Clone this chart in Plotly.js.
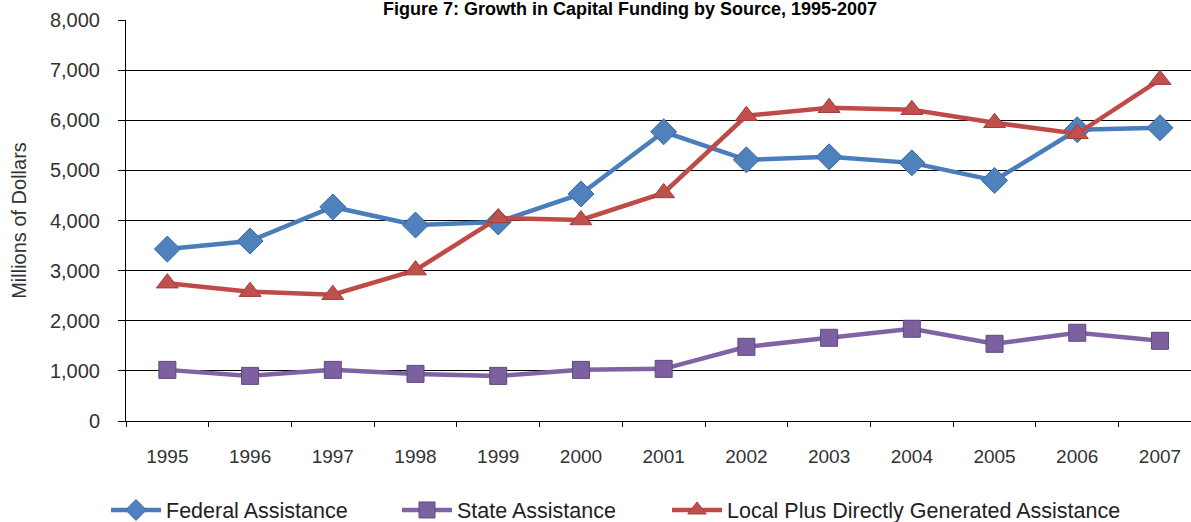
<!DOCTYPE html>
<html>
<head>
<meta charset="utf-8">
<script src="https://cdn.plot.ly/plotly-3.0.1.min.js"></script>
<style>
html,body{margin:0;padding:0;background:#fff;}
#chart{width:1191px;height:522px;}
</style>
</head>
<body>
<div id="chart"></div>
<script>
var years = ["1995","1996","1997","1998","1999","2000","2001","2002","2003","2004","2005","2006","2007"];
var federal = [3430, 3590, 4270, 3910, 3970, 4530, 5770, 5210, 5270, 5150, 4800, 5810, 5850];
var state = [1020, 900, 1020, 940, 900, 1020, 1040, 1480, 1660, 1840, 1540, 1760, 1600];
var localPlus = [2750, 2580, 2520, 3010, 4050, 4010, 4550, 6090, 6250, 6210, 5950, 5730, 6810];
var seriesNames = ["Federal Assistance", "State Assistance", "Local Plus Directly Generated Assistance"];
var yTickVals = [0,1000,2000,3000,4000,5000,6000,7000,8000];
var yTickText = ["0","1,000","2,000","3,000","4,000","5,000","6,000","7,000","8,000"];

var FONT = "Liberation Sans, Arial, sans-serif";

var traces = [
  {x: years, y: federal, name: seriesNames[0], type: "scatter", mode: "lines+markers",
   line: {color: "#4A7EBB", width: 4.5},
   marker: {symbol: "diamond", size: 20, color: "#4F81BD", line: {color: "#3A6AA8", width: 1}},
   legend: "legend"},
  {x: years, y: state, name: seriesNames[1], type: "scatter", mode: "lines+markers",
   line: {color: "#7F63A4", width: 4.5},
   marker: {symbol: "square", size: 17, color: "#7D60A0", line: {color: "#5E4A80", width: 1}},
   legend: "legend2"},
  {x: years, y: localPlus, name: seriesNames[2], type: "scatter", mode: "lines+markers",
   line: {color: "#BE4B48", width: 4.5},
   marker: {symbol: "triangle-up", size: 19, color: "#C0504D", line: {color: "#A33C39", width: 1}},
   legend: "legend3"}
];

function leg(px){
  return {orientation: "h", xref: "container", yref: "container", x: px/1191, y: 12/522,
    xanchor: "left", yanchor: "middle", itemwidth: 50, bgcolor: "rgba(0,0,0,0)",
    font: {family: FONT, size: 21.5, color: "#222"}};
}

var layout = {
  width: 1191, height: 522,
  paper_bgcolor: "#fff", plot_bgcolor: "#fff",
  margin: {l: 126, r: 0, t: 20, b: 101},
  title: {text: "<b>Figure 7: Growth in Capital Funding by Source, 1995-2007</b>",
    font: {family: FONT, size: 18, color: "#000"},
    xref: "container", x: 630/1191, xanchor: "center",
    yref: "container", y: 1 - 9/522, yanchor: "middle"},
  showlegend: true,
  xaxis: {type: "category", categoryorder: "array", categoryarray: years,
    range: [-0.5, 12.375], tickson: "boundaries", ticks: "outside", ticklen: 5,
    tickcolor: "#000", showgrid: false, showline: true, linecolor: "#000", linewidth: 1,
    zeroline: false, ticklabelstandoff: 18,
    tickfont: {family: FONT, size: 19, color: "#333"}},
  yaxis: {range: [0, 8000], tickvals: yTickVals, ticktext: yTickText,
    ticks: "outside", ticklen: 7, tickcolor: "#000",
    showgrid: true, gridcolor: "#000", gridwidth: 1,
    showline: true, linecolor: "#000", linewidth: 1, zeroline: false,
    ticklabelstandoff: 14,
    tickfont: {family: FONT, size: 20, color: "#333"},
    title: {text: "Millions of Dollars", standoff: 17, font: {family: FONT, size: 20, color: "#333"}}},
  legend: leg(106),
  legend2: leg(397),
  legend3: leg(667)
};

Plotly.newPlot("chart", traces, layout, {displayModeBar: false, staticPlot: true});
</script>
</body>
</html>
